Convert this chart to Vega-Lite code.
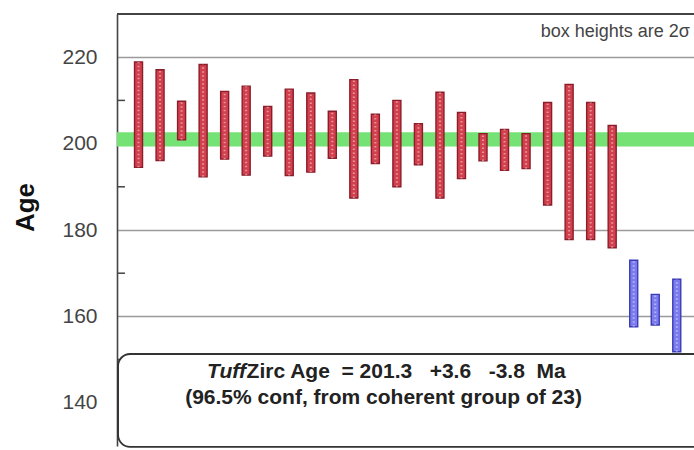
{
  "$schema": "https://vega.github.io/schema/vega-lite/v6.json",
  "width": 577,
  "height": 432,
  "autosize": {"type": "none"},
  "padding": {"left": 117, "top": 14, "right": 0, "bottom": 4},
  "background": "#ffffff",
  "config": {
    "view": {"stroke": null},
    "font": "Liberation Sans",
    "scale": {"continuousPadding": 0}
  },
  "datasets": {
    "grains": [
      {"grain": 1, "lo": 194.5, "hi": 218.9, "group": "coherent"},
      {"grain": 2, "lo": 196.1, "hi": 217.1, "group": "coherent"},
      {"grain": 3, "lo": 200.9, "hi": 209.8, "group": "coherent"},
      {"grain": 4, "lo": 192.3, "hi": 218.3, "group": "coherent"},
      {"grain": 5, "lo": 196.4, "hi": 212.1, "group": "coherent"},
      {"grain": 6, "lo": 192.7, "hi": 213.3, "group": "coherent"},
      {"grain": 7, "lo": 197.1, "hi": 208.6, "group": "coherent"},
      {"grain": 8, "lo": 192.6, "hi": 212.6, "group": "coherent"},
      {"grain": 9, "lo": 193.4, "hi": 211.7, "group": "coherent"},
      {"grain": 10, "lo": 196.6, "hi": 207.5, "group": "coherent"},
      {"grain": 11, "lo": 187.4, "hi": 214.8, "group": "coherent"},
      {"grain": 12, "lo": 195.4, "hi": 206.8, "group": "coherent"},
      {"grain": 13, "lo": 190.0, "hi": 210.0, "group": "coherent"},
      {"grain": 14, "lo": 195.1, "hi": 204.6, "group": "coherent"},
      {"grain": 15, "lo": 187.4, "hi": 211.9, "group": "coherent"},
      {"grain": 16, "lo": 191.9, "hi": 207.2, "group": "coherent"},
      {"grain": 17, "lo": 196.0, "hi": 202.3, "group": "coherent"},
      {"grain": 18, "lo": 193.8, "hi": 203.3, "group": "coherent"},
      {"grain": 19, "lo": 194.2, "hi": 202.3, "group": "coherent"},
      {"grain": 20, "lo": 185.8, "hi": 209.5, "group": "coherent"},
      {"grain": 21, "lo": 177.8, "hi": 213.7, "group": "coherent"},
      {"grain": 22, "lo": 177.8, "hi": 209.5, "group": "coherent"},
      {"grain": 23, "lo": 175.9, "hi": 204.2, "group": "coherent"},
      {"grain": 24, "lo": 157.6, "hi": 173.0, "group": "rejected"},
      {"grain": 25, "lo": 158.0, "hi": 165.1, "group": "rejected"},
      {"grain": 26, "lo": 151.8, "hi": 168.6, "group": "rejected"}
    ]
  },
  "layer": [
    {
      "description": "TuffZirc age band",
      "data": {"values": [{"x0": 0, "x1": 28, "lo": 199.3, "hi": 202.6}]},
      "mark": {"type": "rect", "color": "#74e274"},
      "encoding": {
        "x": {"field": "x0", "type": "quantitative", "scale": {"domain": [0, 26.8], "nice": false, "zero": false, "padding": 0}, "axis": null},
        "x2": {"field": "x1"},
        "y": {
          "field": "lo", "type": "quantitative",
          "scale": {"domain": [130, 230], "nice": false, "zero": false, "padding": 0},
          "axis": {
            "title": "Age",
            "titleFont": "Liberation Sans",
            "titleFontSize": 26,
            "titleFontWeight": "bold",
            "titleColor": "#111111",
            "titleAngle": -90,
            "titleAlign": "center",
            "titleBaseline": "middle",
            "titleX": -92,
            "titleY": 193,
            "values": [140, 160, 180, 200, 220],
            "labelFont": "Liberation Sans",
            "labelFontSize": 21,
            "labelColor": "#444444",
            "labelPadding": 20,
            "ticks": false,
            "domain": true,
            "domainColor": "#444444",
            "domainWidth": 1.6,
            "grid": true,
            "gridColor": "#9a9a9a",
            "gridWidth": 1.6
          }
        },
        "y2": {"field": "hi"}
      }
    },
    {
      "description": "top frame line",
      "data": {"values": [{"x0": 0, "x1": 28, "y": 230}]},
      "mark": {"type": "rule", "color": "#444444", "strokeWidth": 1.8},
      "encoding": {
        "x": {"field": "x0", "type": "quantitative"},
        "x2": {"field": "x1"},
        "y": {"field": "y", "type": "quantitative"}
      }
    },
    {
      "description": "minor ticks, drawn inward",
      "data": {"values": [{"y": 210}, {"y": 190}, {"y": 170}, {"y": 150}]},
      "mark": {"type": "rule", "color": "#444444", "strokeWidth": 1.5},
      "encoding": {
        "x": {"datum": 0, "type": "quantitative"},
        "x2": {"datum": 0.37},
        "y": {"field": "y", "type": "quantitative"}
      }
    },
    {
      "description": "grain age boxes (2 sigma)",
      "data": {"name": "grains"},
      "mark": {"type": "bar", "width": 8, "strokeWidth": 1.4},
      "encoding": {
        "x": {"field": "grain", "type": "quantitative"},
        "y": {"field": "lo", "type": "quantitative"},
        "y2": {"field": "hi"},
        "fill": {"field": "group", "type": "nominal", "scale": {"domain": ["coherent", "rejected"], "range": ["#d2404e", "#7b7bee"]}, "legend": null},
        "stroke": {"field": "group", "type": "nominal", "scale": {"domain": ["coherent", "rejected"], "range": ["#8c1c2a", "#3c3cb8"]}, "legend": null}
      }
    },
    {
      "description": "dotted fill texture inside each box",
      "data": {"name": "grains"},
      "mark": {"type": "rule", "color": "#ffffff", "opacity": 0.45, "strokeWidth": 2, "strokeDash": [1.5, 2.5]},
      "encoding": {
        "x": {"field": "grain", "type": "quantitative"},
        "y": {"field": "lo", "type": "quantitative"},
        "y2": {"field": "hi"}
      }
    },
    {
      "description": "result box",
      "data": {"values": [{"x0": 0.05, "x1": 28, "lo": 129.8, "hi": 151.3}]},
      "mark": {"type": "rect", "fill": "#ffffff", "stroke": "#333333", "strokeWidth": 1.8, "cornerRadius": 12},
      "encoding": {
        "x": {"field": "x0", "type": "quantitative"},
        "x2": {"field": "x1"},
        "y": {"field": "lo", "type": "quantitative"},
        "y2": {"field": "hi"}
      }
    },
    {
      "data": {"values": [{"x": 4.18, "y": 147.1, "t": "Tuff"}]},
      "mark": {"type": "text", "align": "left", "baseline": "middle", "font": "Liberation Sans", "fontSize": 21, "fontWeight": "bold", "fontStyle": "italic", "color": "#222222"},
      "encoding": {
        "x": {"field": "x", "type": "quantitative"},
        "y": {"field": "y", "type": "quantitative"},
        "text": {"field": "t"}
      }
    },
    {
      "data": {"values": [{"x": 6.02, "y": 147.1, "t": "Zirc Age\u00a0\u00a0= 201.3\u00a0\u00a0\u00a0+3.6\u00a0\u00a0\u00a0-3.8\u00a0\u00a0Ma"}]},
      "mark": {"type": "text", "align": "left", "baseline": "middle", "font": "Liberation Sans", "fontSize": 21, "fontWeight": "bold", "color": "#222222"},
      "encoding": {
        "x": {"field": "x", "type": "quantitative"},
        "y": {"field": "y", "type": "quantitative"},
        "text": {"field": "t"}
      }
    },
    {
      "data": {"values": [{"x": 12.38, "y": 141.1, "t": "(96.5% conf, from coherent group of 23)"}]},
      "mark": {"type": "text", "align": "center", "baseline": "middle", "font": "Liberation Sans", "fontSize": 21, "fontWeight": "bold", "color": "#222222"},
      "encoding": {
        "x": {"field": "x", "type": "quantitative"},
        "y": {"field": "y", "type": "quantitative"},
        "text": {"field": "t"}
      }
    },
    {
      "data": {"values": [{"x": 26.61, "y": 225.9, "t": "box heights are 2σ"}]},
      "mark": {"type": "text", "align": "right", "baseline": "middle", "font": "Liberation Sans", "fontSize": 18, "color": "#444444"},
      "encoding": {
        "x": {"field": "x", "type": "quantitative"},
        "y": {"field": "y", "type": "quantitative"},
        "text": {"field": "t"}
      }
    }
  ]
}
